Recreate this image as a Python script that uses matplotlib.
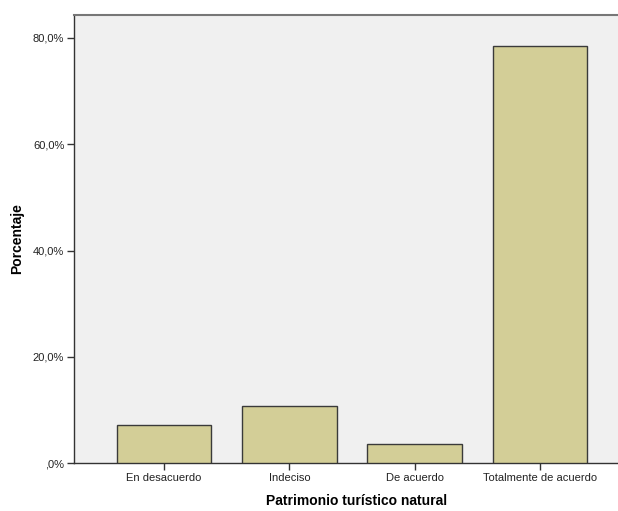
import matplotlib
matplotlib.use("Agg")
import matplotlib.pyplot as plt
from matplotlib.ticker import FuncFormatter

categories = ["En desacuerdo", "Indeciso", "De acuerdo", "Totalmente de acuerdo"]
values = [7.2, 10.8, 3.6, 78.4]
yticks = [0, 20, 40, 60, 80]

plt.rcParams['font.family'] = ['Liberation Sans', 'DejaVu Sans']

W, H = 618, 511
fig = plt.figure(figsize=(W/100, H/100), dpi=100)
left, right, top, bottom = 74, 630, 15, 463.3
ax = fig.add_axes([left/W, 1-bottom/H, (right-left)/W, (bottom-top)/H])
ax.set_facecolor('#F0F0F0')

x = list(range(len(categories)))
ax.bar(x, values, width=0.756, color='#D3CE97', edgecolor='#3A3A3A', linewidth=1.0, zorder=3)
ax.set_xlim(-0.72, 3.72)
ax.set_ylim(0, 84.3)
ax.set_yticks(yticks)
ax.yaxis.set_major_formatter(FuncFormatter(lambda v, p: (",0%" if v == 0 else f"{v:.1f}%".replace(".", ","))))
ax.set_xticks(x)
ax.set_xticklabels(categories)
ax.tick_params(axis='both', direction='out', length=5, width=1, color='#333333', labelsize=8, labelcolor='#222222', pad=2)
for s in ['left', 'bottom', 'top']:
    ax.spines[s].set_color('#333333')
    ax.spines[s].set_linewidth(1)
ax.spines['top'].set_color('#777777')
ax.spines['top'].set_linewidth(1.5)
ax.spines['right'].set_visible(False)
ax.set_ylabel('Porcentaje', fontsize=10, fontweight='bold')
ax.set_xlabel('Patrimonio turístico natural', fontsize=10, fontweight='bold')
ax.xaxis.set_label_coords((356.5-left)/(right-left), -(494-bottom)/(bottom-top))
ax.yaxis.set_label_coords(-(74-24)/(right-left), (bottom-239)/(bottom-top))

fig.savefig('out.png', dpi=100)
